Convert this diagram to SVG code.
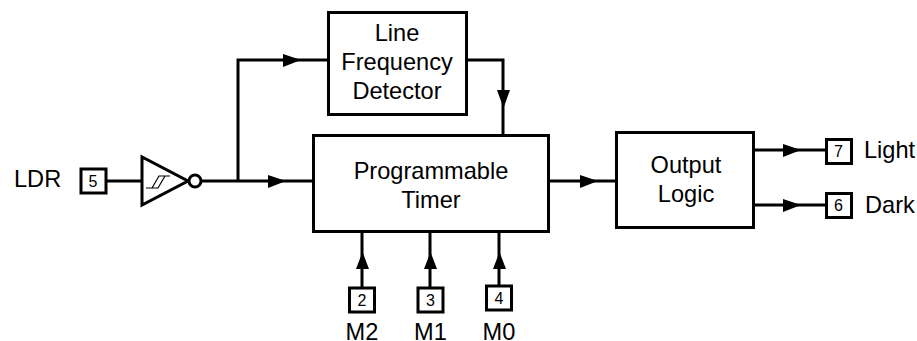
<svg xmlns="http://www.w3.org/2000/svg" width="917" height="341" viewBox="0 0 917 341">
<style>
text{font-family:"Liberation Sans",Arial,sans-serif;fill:#000}
.b{fill:#fff;stroke:#000;stroke-width:3}
.l{font-size:23.6px}
.c{text-anchor:middle}
.p{font-size:16px;text-anchor:middle}
.w{fill:none;stroke:#000;stroke-width:3}
.a{fill:#000;stroke:none}
</style>
<rect width="917" height="341" fill="#fff"/>
<g id="connectors">
<path class="w" d="M106 181H142M202 181H313M238 181V60H328M467 60H503V135M549 181H617M754 150H826M754 205H826M362 232V288M430 232V288M499 232V286"/>
<path class="a" d="M283 54L301 60L283 67ZM268 175L286 181L268 188ZM580 175L598 181L580 188ZM783 144L801 150L783 157ZM783 199L801 205L783 212ZM497 90H510L503.500 108ZM356 269H369L362.500 252ZM424 269H437L430.500 252ZM493 269H506L499.500 252Z"/>
</g>
<g id="pin5"><rect class="b" x="81" y="169" width="25" height="24"/><text class="p" x="93" y="187">5</text></g>
<text id="label-ldr" class="l" x="14" y="187">LDR</text>
<g id="schmitt-inverter">
<path class="b" d="M142 157V205L188 181Z"/><circle class="b" cx="195" cy="181" r="6"/>
<path fill="none" stroke="#000" stroke-width="1.200" d="M146 188H158L165 176M152 188L159 176H170"/>
</g>
<g id="line-frequency-detector"><rect class="b" x="328.500" y="12.500" width="138" height="102"/>
<text class="l c" x="397" y="41">Line</text><text class="l c" x="397" y="70">Frequency</text><text class="l c" x="397" y="99">Detector</text></g>
<g id="programmable-timer"><rect class="b" x="313.500" y="135.500" width="235" height="96"/>
<text class="l c" x="431" y="179">Programmable</text><text class="l c" x="431" y="208">Timer</text></g>
<g id="output-logic"><rect class="b" x="616.500" y="132.500" width="137" height="95"/>
<text class="l c" x="686" y="173">Output</text><text class="l c" x="686" y="202">Logic</text></g>
<g id="pin2"><rect class="b" x="349.500" y="288" width="25" height="24"/><text class="p" x="362" y="305.500">2</text><text class="l c" x="362" y="339.500">M2</text></g>
<g id="pin3"><rect class="b" x="418" y="288" width="25" height="24"/><text class="p" x="430.500" y="305.500">3</text><text class="l c" x="430.500" y="339.500">M1</text></g>
<g id="pin4"><rect class="b" x="486.500" y="286" width="25" height="24"/><text class="p" x="499" y="303.500">4</text><text class="l c" x="499" y="339.500">M0</text></g>
<g id="pin7"><rect class="b" x="826.500" y="139.500" width="25" height="24"/><text class="p" x="838.500" y="157">7</text><text class="l" x="864" y="158">Light</text></g>
<g id="pin6"><rect class="b" x="826.500" y="193.500" width="25" height="24"/><text class="p" x="838.500" y="211">6</text><text class="l" x="865" y="213">Dark</text></g>
</svg>
